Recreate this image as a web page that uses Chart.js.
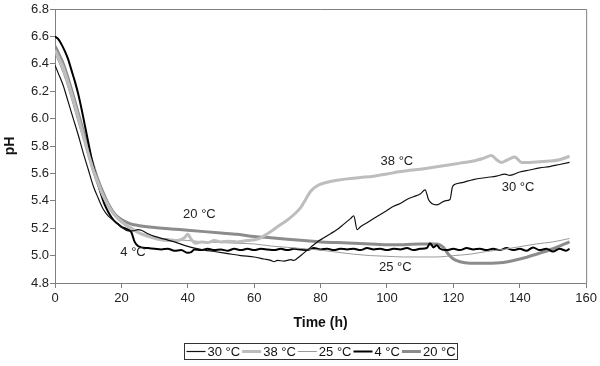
<!DOCTYPE html>
<html>
<head>
<meta charset="utf-8">
<script src="https://cdn.jsdelivr.net/npm/chart.js@4/dist/chart.umd.min.js"></script>
<style>
html,body{margin:0;padding:0;background:#fff;}
#wrap{width:600px;height:366px;position:relative;}
</style>
</head>
<body>
<div id="wrap"><canvas id="c" width="600" height="366"></canvas></div>
<script>
// ---- data (time h, pH) ----
const seriesLabels = ['30 °C', '38 °C', '25 °C', '4 °C', '20 °C'];
const xTicks = [0, 20, 40, 60, 80, 100, 120, 140, 160];
const yTicks = [4.8, 5.0, 5.2, 5.4, 5.6, 5.8, 6.0, 6.2, 6.4, 6.6, 6.8];

const ph30 = [[0,6.39],[1,6.33],[2.5,6.24],[4,6.12],[5.5,6.0],[7,5.88],[8.5,5.75],[10,5.63],[11.5,5.51],[13,5.42],[14.5,5.34],[16,5.29],[17.5,5.26],[19,5.23],[20.5,5.20],[22,5.18],[23.5,5.18],[25,5.19],[26,5.185],[28,5.16],[30,5.14],[33,5.12],[36,5.10],[39,5.075],[42,5.055],[45,5.04],[48,5.03],[52,5.015],[56,5.0],[60,4.99],[63,4.975],[65,4.965],[66,4.955],[67,4.965],[69,4.96],[71,4.97],[72,4.965],[73,4.98],[75,5.02],[77,5.06],[79,5.10],[81,5.13],[83,5.16],[85,5.19],[87,5.23],[89,5.27],[90,5.29],[91,5.19],[92,5.21],[94,5.24],[96,5.27],[98,5.30],[100,5.33],[102,5.36],[104,5.38],[106,5.41],[108,5.43],[110,5.45],[111.5,5.48],[112.5,5.41],[113.5,5.38],[115,5.37],[116,5.38],[117.5,5.40],[119,5.41],[119.7,5.50],[120.5,5.52],[123,5.535],[126,5.555],[130,5.57],[133,5.58],[135.5,5.595],[137,5.585],[140,5.61],[143,5.625],[146,5.64],[149,5.65],[152,5.665],[155,5.68]];

const ph38 = [[0,6.50],[1,6.45],[2.5,6.37],[4,6.26],[5.5,6.14],[7,6.01],[8.5,5.88],[10,5.75],[11.5,5.63],[13,5.53],[14.5,5.44],[16,5.37],[17.5,5.31],[19,5.27],[21,5.23],[23,5.20],[25,5.17],[28,5.14],[31,5.12],[34,5.11],[37,5.11],[39,5.13],[40,5.155],[41,5.12],[42.5,5.09],[44,5.10],[46,5.095],[48,5.11],[50,5.10],[52,5.105],[55,5.10],[58,5.11],[61,5.12],[64,5.16],[67,5.21],[70,5.26],[72,5.30],[74,5.35],[75.5,5.41],[77,5.47],[79,5.51],[82,5.535],[85,5.55],[88,5.56],[92,5.57],[96,5.58],[100,5.595],[103,5.61],[106,5.62],[110,5.63],[114,5.645],[118,5.66],[122,5.675],[126,5.69],[129,5.71],[131.5,5.73],[133,5.70],[134.5,5.68],[136,5.695],[138.5,5.72],[139.5,5.70],[140.5,5.68],[143,5.68],[146,5.685],[149,5.69],[152,5.70],[155,5.725]];

const ph25 = [[0,6.47],[1,6.42],[2.5,6.33],[4,6.22],[5.5,6.10],[7,5.97],[8.5,5.85],[10,5.72],[11.5,5.60],[13,5.50],[14.5,5.42],[16,5.35],[17.5,5.30],[19,5.26],[21,5.22],[23,5.19],[25,5.17],[28,5.15],[31,5.13],[35,5.12],[40,5.11],[45,5.10],[50,5.095],[55,5.09],[60,5.085],[65,5.07],[70,5.06],[75,5.05],[80,5.04],[85,5.025],[90,5.01],[95,5.0],[100,4.995],[105,4.99],[110,4.99],[115,4.99],[118,4.995],[120,5.0],[125,5.01],[130,5.03],[135,5.045],[140,5.065],[145,5.085],[150,5.10],[155,5.125]];

const ph4 = [[0,6.60],[1,6.58],[2,6.54],[3,6.49],[4,6.43],[5,6.35],[6,6.27],[7,6.18],[8,6.07],[9,5.95],[10,5.83],[11,5.71],[12,5.61],[13,5.52],[14,5.44],[15,5.37],[16,5.32],[17,5.28],[18,5.25],[19,5.23],[20,5.21],[21,5.20],[22,5.19],[23,5.17],[24,5.10],[25,5.07],[26,5.06],[28,5.055],[30,5.05],[32,5.045],[34,5.05],[36,5.035],[38,5.04],[40,5.02],[41,5.025],[42,5.045],[44,5.04],[46,5.05],[48,5.04],[50,5.045],[52,5.035],[54,5.05],[56,5.04],[58,5.05],[60,5.04],[62,5.05],[64,5.045],[66,5.04],[68,5.05],[70,5.04],[72,5.05],[74,5.045],[76,5.04],[78,5.055],[80,5.045],[82,5.05],[84,5.04],[86,5.05],[88,5.045],[90,5.05],[92,5.04],[94,5.055],[96,5.045],[98,5.05],[100,5.04],[102,5.05],[104,5.045],[106,5.055],[108,5.04],[110,5.05],[112,5.055],[113,5.09],[114,5.06],[115,5.075],[116,5.05],[118,5.04],[120,5.05],[122,5.04],[124,5.055],[126,5.045],[128,5.05],[130,5.04],[132,5.05],[134,5.04],[136,5.055],[138,5.04],[140,5.05],[142,5.035],[144,5.06],[146,5.04],[148,5.05],[150,5.03],[152,5.05],[154,5.035],[155,5.05]];

const ph20 = [[0,6.53],[1,6.48],[2.5,6.40],[4,6.29],[5.5,6.17],[7,6.04],[8.5,5.91],[10,5.78],[11.5,5.66],[13,5.55],[14.5,5.46],[16,5.38],[17.5,5.32],[19,5.28],[21,5.25],[23,5.23],[25,5.22],[30,5.205],[35,5.195],[40,5.185],[45,5.175],[50,5.165],[55,5.155],[60,5.14],[65,5.13],[70,5.12],[75,5.11],[80,5.10],[85,5.095],[90,5.09],[95,5.085],[100,5.08],[105,5.08],[110,5.085],[115,5.085],[117,5.06],[118.5,5.01],[120,4.975],[122,4.955],[125,4.945],[130,4.945],[135,4.95],[140,4.975],[145,5.01],[150,5.05],[155,5.10]];

// in-plot labels [text, time, pH]
const notes = [['38 °C',103,5.69],['30 °C',139.5,5.50],['20 °C',43.5,5.30],['4 °C',23.5,5.02],['25 °C',102.5,4.915]];

const FONT = '"Liberation Sans", Arial, Helvetica, sans-serif';
const toXY = arr => arr.map(p => ({x: p[0], y: p[1]}));

const styles = [
  {c:'#111111', w:1.2},
  {c:'#bdbdbd', w:3},
  {c:'#9a9a9a', w:1},
  {c:'#000000', w:2},
  {c:'#8c8c8c', w:3}
];
const allData = [ph30, ph38, ph25, ph4, ph20];

const datasets = allData.map((d, i) => ({
  label: seriesLabels[i],
  data: toXY(d),
  borderColor: styles[i].c,
  backgroundColor: styles[i].c,
  borderWidth: styles[i].w,
  pointRadius: 0,
  cubicInterpolationMode: 'monotone',
  fill: false
}));

const framePlugin = {
  id: 'frame',
  beforeDatasetsDraw(chart) {
    const {ctx, chartArea: a} = chart;
    ctx.save();
    ctx.strokeStyle = '#808080';
    ctx.lineWidth = 1;
    ctx.beginPath();
    ctx.moveTo(a.left, a.top + 0.5);
    ctx.lineTo(a.right + 0.5, a.top + 0.5);
    ctx.lineTo(a.right + 0.5, a.bottom);
    ctx.stroke();
    ctx.restore();
  }
};

const notesPlugin = {
  id: 'notes',
  afterDatasetsDraw(chart) {
    const {ctx, scales} = chart;
    ctx.save();
    ctx.font = '13px ' + FONT;
    ctx.fillStyle = '#222';
    ctx.textAlign = 'center';
    ctx.textBaseline = 'middle';
    notes.forEach(n => {
      ctx.fillText(n[0], scales.x.getPixelForValue(n[1]), scales.y.getPixelForValue(n[2]));
    });
    ctx.restore();
  }
};

const legendPlugin = {
  id: 'boxLegend',
  afterDraw(chart) {
    const {ctx, chartArea: a} = chart;
    ctx.save();
    ctx.font = '13px ' + FONT;
    const lineLen = 19, gap = 2, pad = 2;
    const items = chart.data.datasets.map(ds => ({ds, w: ctx.measureText(ds.label).width}));
    let total = pad;
    items.forEach(it => { total += lineLen + gap + it.w + gap; });
    total += pad - gap;
    const cx = (a.left + a.right) / 2;
    const x0 = Math.round(cx - total / 2) + 0.5;
    const h = 16;
    const y0 = chart.height - 23 + 0.5;
    ctx.strokeStyle = '#333';
    ctx.lineWidth = 1;
    ctx.strokeRect(x0, y0, Math.round(total), h);
    let x = x0 + pad;
    const ym = y0 + h / 2;
    items.forEach(it => {
      ctx.strokeStyle = it.ds.borderColor;
      ctx.lineWidth = it.ds.borderWidth;
      ctx.beginPath();
      ctx.moveTo(x, ym);
      ctx.lineTo(x + lineLen, ym);
      ctx.stroke();
      x += lineLen + gap;
      ctx.fillStyle = '#111';
      ctx.textAlign = 'left';
      ctx.textBaseline = 'middle';
      ctx.fillText(it.ds.label, x, ym + 0.5);
      x += it.w + gap;
    });
    ctx.restore();
  }
};

new Chart(document.getElementById('c'), {
  type: 'line',
  data: {datasets},
  plugins: [framePlugin, notesPlugin, legendPlugin],
  options: {
    responsive: false,
    animation: false,
    devicePixelRatio: 1,
    layout: {padding: {left: 0, right: 13, top: 9, bottom: 30}},
    plugins: {legend: {display: false}, tooltip: {enabled: false}},
    scales: {
      x: {
        type: 'linear',
        min: 0, max: 160,
        afterBuildTicks: s => { s.ticks = xTicks.map(v => ({value: v})); },
        afterFit: s => { s.height = 53; },
        grid: {drawOnChartArea: false, drawTicks: true, tickLength: 5, color: '#808080'},
        border: {color: '#808080', width: 1},
        ticks: {color: '#222', font: {family: FONT, size: 13}, padding: 3, maxRotation: 0},
        title: {display: true, text: 'Time (h)', color: '#111', font: {family: FONT, size: 14, weight: 'bold'}, padding: {top: 4, bottom: 4}}
      },
      y: {
        type: 'linear',
        min: 4.8, max: 6.8,
        afterBuildTicks: s => { s.ticks = yTicks.map(v => ({value: v})); },
        afterFit: s => { s.width = 55; },
        grid: {drawOnChartArea: false, drawTicks: true, tickLength: 5, color: '#808080'},
        border: {color: '#808080', width: 1},
        ticks: {color: '#222', font: {family: FONT, size: 13}, padding: 1, callback: v => Number(v).toFixed(1)},
        title: {display: true, text: 'pH', color: '#111', font: {family: FONT, size: 14, weight: 'bold'}, padding: {top: 2, bottom: 2}}
      }
    }
  }
});
</script>
</body>
</html>
